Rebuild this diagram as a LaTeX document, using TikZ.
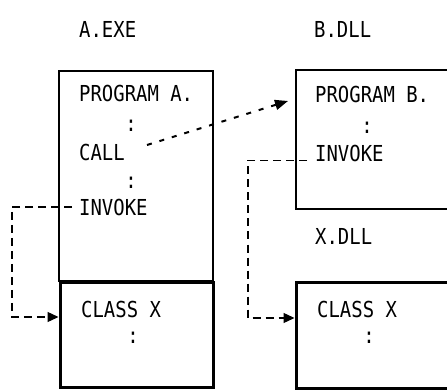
\documentclass[tikz,border=0pt]{standalone}
\usepackage{fontspec}
\newfontfamily\termfont[FakeStretch=0.86]{DejaVu Sans Mono}
\usepackage{tikz}
\usetikzlibrary{arrows.meta,calc}

\begin{document}
\begin{tikzpicture}[
  x=1pt, y=-1pt,
  txt/.style={inner sep=0, anchor=base west, font={\termfont\fontsize{22}{25}\selectfont}},
  colon/.style={inner sep=0, anchor=center, font={\termfont\fontsize{22}{25}\selectfont}},
  thinbox/.style={draw, line width=1.2pt, inner sep=0},
  thickbox/.style={draw, line width=3pt, inner sep=0},
  link/.style={line width=1.3pt, dash pattern=on 8pt off 5pt,
               -{Triangle[length=11pt,width=10pt]}},
  callarr/.style={line width=2pt, dash pattern=on 5pt off 8pt,
                  -{Triangle[length=13pt,width=10pt]}}
]
\useasboundingbox (0,0) rectangle (447,390);
\clip (0,0) rectangle (447,390);

\node[thinbox, minimum width=154pt, minimum height=210pt] (exeA) at (136,176) {};
\node[thickbox, minimum width=153pt, minimum height=105pt] (clsA) at (136.5,334.5) {};
\node[thinbox, minimum width=164pt, minimum height=139pt] (dllB) at (378,139.5) {};
\node[thickbox, minimum width=164pt, minimum height=106pt] (clsB) at (378,335) {};

\node[txt] (nameA) at (79,38)  {A.EXE};
\node[txt] (nameB) at (314,38) {B.DLL};
\node[txt] (nameX) at (315,244) {X.DLL};

\node[txt] (progA) at (79,102) {PROGRAM A.};
\node[colon] (dotsA1) at (131,126) {:};
\node[txt] (call) at (79,161) {CALL};
\node[colon] (dotsA2) at (131,183) {:};
\node[txt] (invA) at (79,215) {INVOKE};

\node[txt] (progB) at (315,103) {PROGRAM B.};
\node[colon] (dotsB) at (367,128) {:};
\node[txt] (invB) at (315,162) {INVOKE};

\node[txt] (classA) at (81,317) {CLASS X};
\node[colon] (dotsCA) at (133,338) {:};
\node[txt] (classB) at (317,317) {CLASS X};
\node[colon] (dotsCB) at (369,338) {:};

\coordinate (callsrc) at (147,145);
\coordinate (calldst) at (288,101);

\draw[callarr] (callsrc) -- (calldst);
\draw[link] ([xshift=-7pt]invA.west) -- ++(-60,0) |- ([yshift=17.5pt]clsA.west);
\draw[link] ([xshift=-8pt,yshift=1.5pt]invB.base west) -- ++(-59,0) |- ([yshift=17pt]clsB.west);
\end{tikzpicture}
\end{document}
